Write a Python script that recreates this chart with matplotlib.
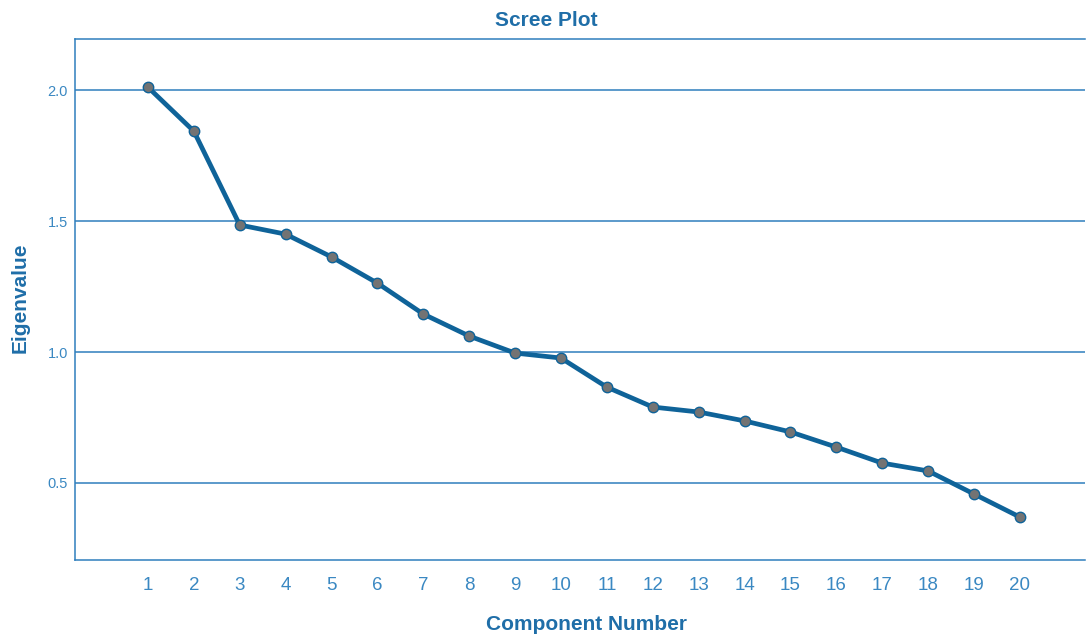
import matplotlib
matplotlib.use("Agg")
import matplotlib.pyplot as plt

components = list(range(1, 21))
eigenvalues = [2.011, 1.843, 1.485, 1.450, 1.363, 1.263, 1.145, 1.061, 0.996, 0.977,
               0.866, 0.790, 0.771, 0.737, 0.695, 0.637, 0.576, 0.546, 0.458, 0.370]
y_ticks = [0.5, 1.0, 1.5, 2.0]

plt.rcParams['font.family'] = ['Liberation Sans', 'DejaVu Sans']
text_c = '#1f6ea8'
tick_c = '#3a88c2'
line_c = '#0f6399'
grid_c = '#2f7fbd'

fig = plt.figure(figsize=(10.86, 6.35), dpi=100)
ax = fig.add_axes([75/1086, 1-560/635, 1010/1086, 521/635])

ax.plot(components, eigenvalues, color=line_c, lw=3.4, marker='o', ms=7.5,
        mfc='#737373', mec=line_c, mew=1.0, zorder=3)

ax.set_xlim(-0.59, 21.42)
ax.set_ylim(0.206, 2.195)
ax.set_xticks(components)
ax.set_yticks(y_ticks)
ax.set_yticklabels([f"{v:.1f}" for v in y_ticks])
ax.tick_params(axis='x', length=0, labelsize=13.5, colors=tick_c, pad=12)
ax.tick_params(axis='y', length=0, labelsize=10.5, colors=tick_c, pad=5)
ax.grid(axis='y', color=grid_c, lw=1.1)
ax.set_axisbelow(True)
for s in ['top', 'left', 'bottom']:
    ax.spines[s].set_color(grid_c)
    ax.spines[s].set_linewidth(1.1)
ax.spines['right'].set_visible(False)

fig.text(546/1086, 1-21/635, 'Scree Plot', ha='center', va='center',
         fontsize=15, fontweight='bold', color=text_c)
fig.text(586/1086, 1-625/635, 'Component Number', ha='center', va='center',
         fontsize=15, fontweight='bold', color=text_c)
fig.text(20/1086, 1-298/635, 'Eigenvalue', ha='center', va='center', rotation=90,
         fontsize=15, fontweight='bold', color=text_c)

fig.savefig('out.png', dpi=100)
